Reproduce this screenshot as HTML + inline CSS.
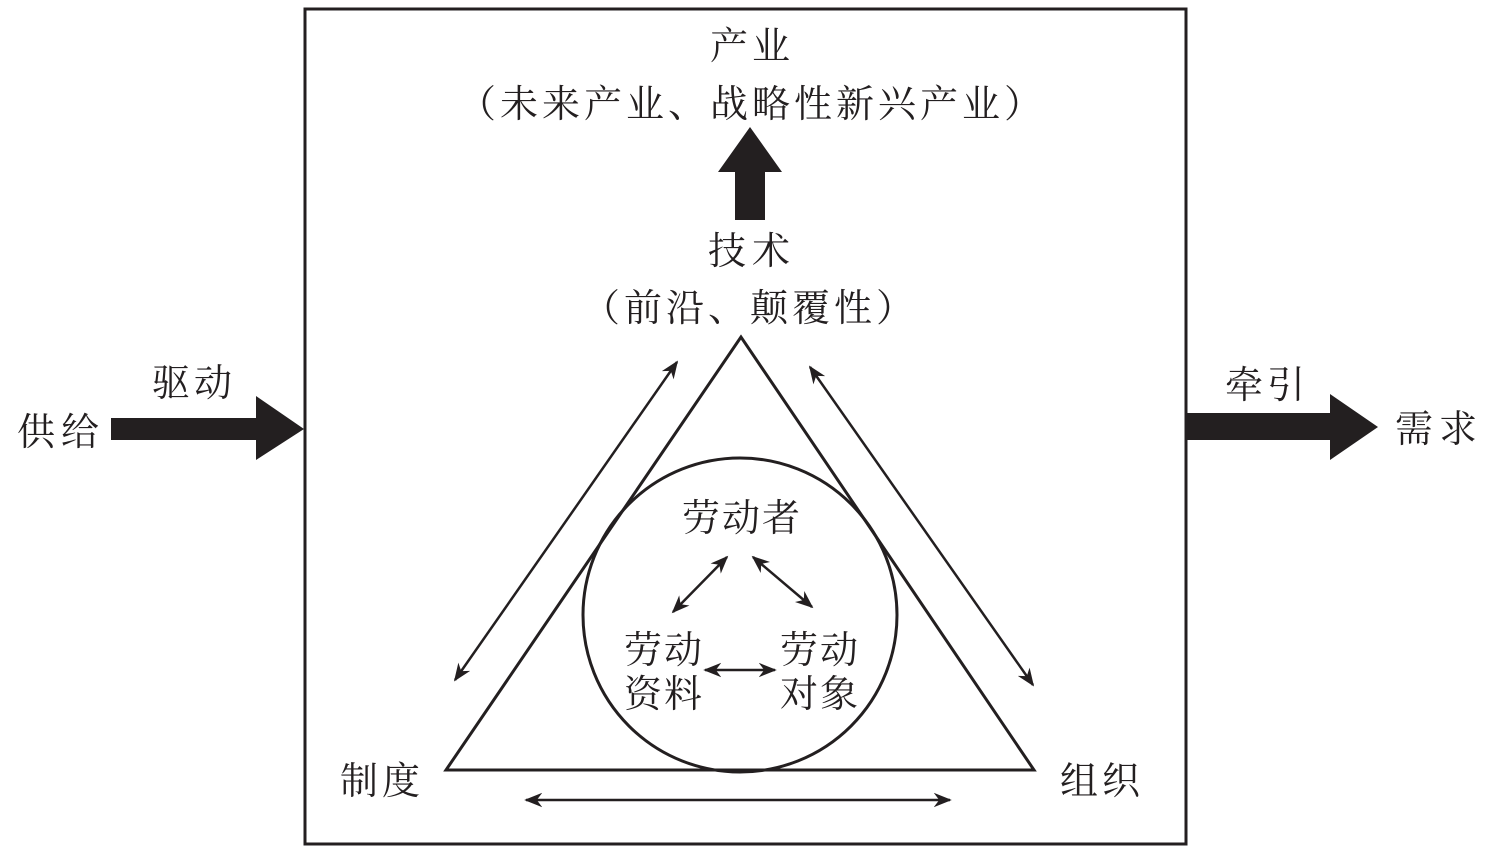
<!DOCTYPE html>
<html><head><meta charset="utf-8"><style>html,body{margin:0;padding:0;background:#fff}svg{display:block}text{font-family:"Liberation Serif","Noto Serif CJK SC",serif;font-size:38px;fill:#231f20}</style></head><body>
<svg width="1498" height="859" viewBox="0 0 1498 859" xmlns="http://www.w3.org/2000/svg">
<defs>
<marker id="b" viewBox="0 0 10 10" refX="9" refY="5" markerWidth="18" markerHeight="18" markerUnits="userSpaceOnUse" orient="auto-start-reverse"><path d="M0,1 L10,5 L0,9 L3,5 z" fill="#231f20"/></marker>
</defs>
<rect x="305" y="9" width="881" height="835" fill="none" stroke="#231f20" stroke-width="3"/>
<g text-anchor="middle">
<text x="752" y="59" letter-spacing="4">产业</text>
<text x="752" y="117" letter-spacing="4">（未来产业、战略性新兴产业）</text>
<text x="752" y="264" letter-spacing="6">技术</text>
<text x="750" y="321" letter-spacing="4">（前沿、颠覆性）</text>
<text x="742" y="531" letter-spacing="2">劳动者</text>
<text x="664" y="663" letter-spacing="2">劳动</text>
<text x="664" y="707" letter-spacing="2">资料</text>
<text x="820" y="663" letter-spacing="2">劳动</text>
<text x="820" y="707" letter-spacing="2">对象</text>
<text x="382" y="794" letter-spacing="4">制度</text>
<text x="1102" y="794" letter-spacing="4">组织</text>
<text x="61" y="445" letter-spacing="6">供给</text>
<text x="194" y="396" letter-spacing="4">驱动</text>
<text x="1267" y="398" letter-spacing="4">牵引</text>
<text x="1439" y="442" letter-spacing="6">需求</text>
</g>
<path d="M735,220 V172 H718 L750,127 L782,172 H765 V220 Z" fill="#231f20"/>
<path d="M111,418 H256 V396 L304,429 L256,460 V440 H111 Z" fill="#231f20"/>
<path d="M1187,413 H1330 V394 L1378,427 L1330,460 V440 H1187 Z" fill="#231f20"/>
<polygon points="741,337 446,770 1034,770" fill="none" stroke="#231f20" stroke-width="3"/>
<circle cx="740" cy="615" r="157" fill="none" stroke="#231f20" stroke-width="3"/>
<g stroke="#231f20" stroke-width="2.5" fill="none">
<line x1="677" y1="362" x2="455" y2="680" marker-start="url(#b)" marker-end="url(#b)"/>
<line x1="810" y1="367" x2="1033" y2="685" marker-start="url(#b)" marker-end="url(#b)"/>
<line x1="526" y1="800" x2="950" y2="800" marker-start="url(#b)" marker-end="url(#b)"/>
<line x1="727" y1="557" x2="673" y2="612" marker-start="url(#b)" marker-end="url(#b)"/>
<line x1="753" y1="557" x2="812" y2="607" marker-start="url(#b)" marker-end="url(#b)"/>
<line x1="705" y1="670" x2="775" y2="670" marker-start="url(#b)" marker-end="url(#b)"/>
</g>
</svg>
</body></html>
